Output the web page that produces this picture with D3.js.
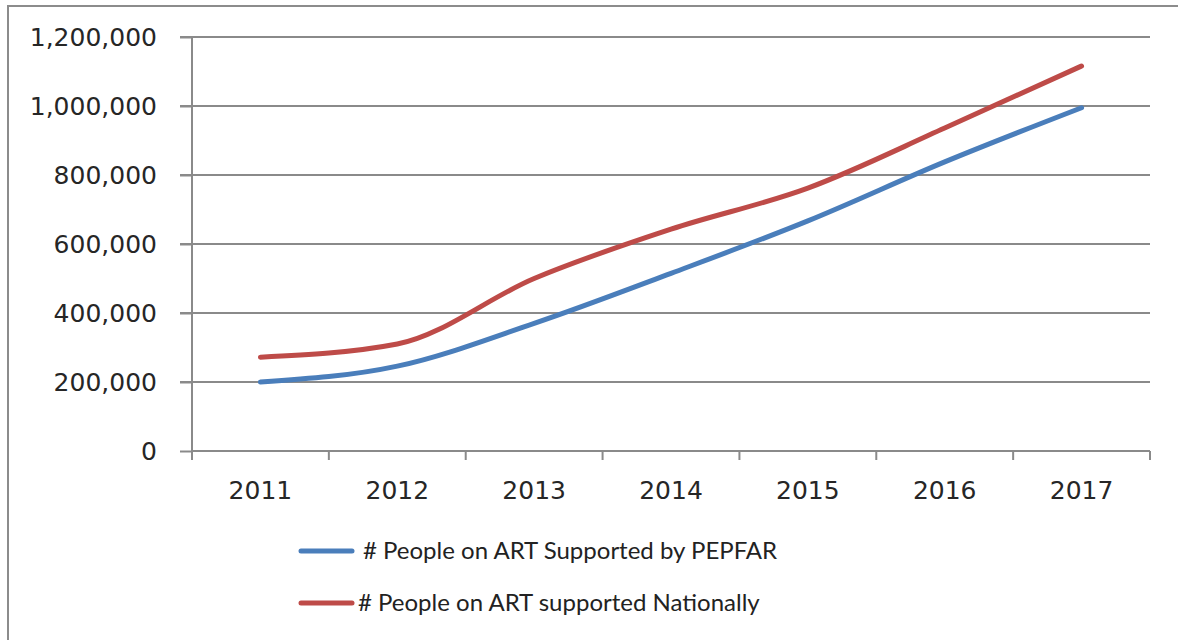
<!DOCTYPE html>
<html><head><meta charset="utf-8">
<script src="https://cdn.jsdelivr.net/npm/d3@7"></script>
<style>html,body{margin:0;padding:0;background:#fff;}</style>
</head><body>
<svg id="chart" width="1178" height="640"></svg>
<script>
const years = ["2011","2012","2013","2014","2015","2016","2017"];
const pepfar = [200000, 246000, 370000, 515000, 667000, 838000, 995000];
const national = [272000, 310000, 500000, 643000, 762000, 936000, 1116000];
const yTicks = [0, 200000, 400000, 600000, 800000, 1000000, 1200000];
const seriesNames = ["# People on ART Supported by PEPFAR", "# People on ART supported Nationally"];
const seriesColors = ["#4a7ebb", "#be4b48"];

const svg = d3.select("#chart");
// outer border
svg.append("path").attr("d","M8,640 L8,6 L1178,6").attr("fill","none").attr("stroke","#8c8c8c").attr("stroke-width",2);

const x = d3.scaleBand().domain(years).range([192,1150]);
const y = d3.scaleLinear().domain([0,1200000]).range([451,37]);
const fmt = d3.format(",");
const gridColor = "#8a8a8a";

// gridlines
svg.append("g").selectAll("line").data(yTicks.filter(d=>d>0)).join("line")
  .attr("x1",180).attr("x2",1150).attr("y1",d=>y(d)).attr("y2",d=>y(d))
  .attr("stroke",gridColor).attr("stroke-width",2);

// y axis
const yAxis = svg.append("g").attr("transform","translate(192,0)")
  .call(d3.axisLeft(y).tickValues(yTicks).tickFormat(fmt).tickSize(12).tickPadding(23));
yAxis.select(".domain").attr("stroke",gridColor).attr("stroke-width",2).attr("d","M0,37V451");
yAxis.selectAll(".tick line").attr("stroke",gridColor).attr("stroke-width",2);
yAxis.selectAll("text").attr("font-family","DejaVu Sans").attr("font-size",25).attr("fill","#262626").attr("dy","0.35em");

// x axis
const xAxis = svg.append("g").attr("transform","translate(0,451)")
  .call(d3.axisBottom(x).tickSize(0).tickPadding(30));
xAxis.select(".domain").attr("stroke",gridColor).attr("stroke-width",2).attr("d","M192,0H1150");
xAxis.selectAll("text").attr("font-family","DejaVu Sans").attr("font-size",25).attr("fill","#262626");
// category boundary ticks
const bounds = years.map(d=>x(d)).concat([x.range()[1]]);
svg.append("g").selectAll("line").data(bounds).join("line")
  .attr("x1",d=>d).attr("x2",d=>d).attr("y1",451).attr("y2",460)
  .attr("stroke",gridColor).attr("stroke-width",2);

// lines
const line = d3.line().x((d,i)=>x(years[i])+x.bandwidth()/2).y(d=>y(d)).curve(d3.curveMonotoneX);
[pepfar, national].forEach((s,i)=>{
  svg.append("path").datum(s).attr("d",line).attr("fill","none")
    .attr("stroke",seriesColors[i]).attr("stroke-width",5).attr("stroke-linecap","round").attr("stroke-linejoin","round");
});

// legend
const legY = [551, 603];
const legTextX = [363, 358];
seriesNames.forEach((n,i)=>{
  svg.append("line").attr("x1",301).attr("x2",352).attr("y1",legY[i]).attr("y2",legY[i])
    .attr("stroke",seriesColors[i]).attr("stroke-width",5).attr("stroke-linecap","round");
  svg.append("text").attr("x",legTextX[i]).attr("y",legY[i]).attr("dy","0.35em")
    .attr("font-family","Lato").attr("font-size",24).attr("fill","#222").text(n);
});
</script>
</body></html>
